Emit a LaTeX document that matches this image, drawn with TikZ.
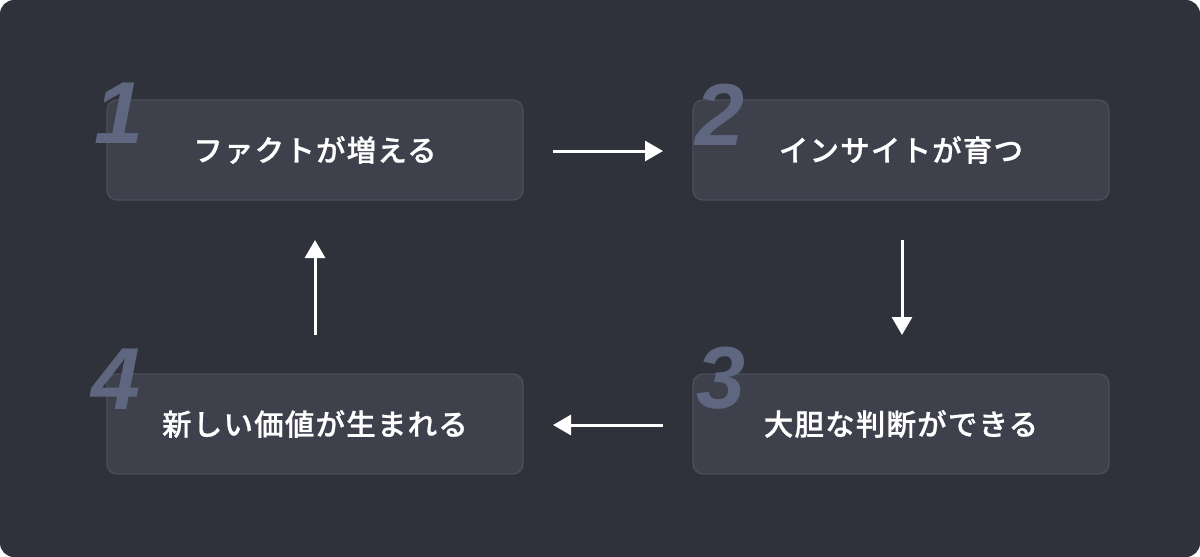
\documentclass[tikz,border=0pt]{standalone}
\usepackage{fontspec}
\newfontfamily\cjk{Noto Sans CJK JP Medium}[LetterSpace=4,FakeBold=0.8]
\newfontfamily\numfont{Liberation Sans}
\usetikzlibrary{arrows.meta}
\definecolor{bgc}{HTML}{30323B}
\definecolor{boxfill}{HTML}{3E404C}
\definecolor{boxline}{HTML}{4C4F5C}
\definecolor{numc}{HTML}{5F6680}
\tikzset{
  stepbox/.style={draw=boxline, line width=1.2pt, fill=boxfill, rounded corners=10pt, minimum width=416pt, minimum height=100pt, inner sep=0pt, text=white, font=\cjk\fontsize{29.5}{33}\selectfont},
  numlabel/.style={text=numc, font=\numfont\bfseries\itshape\fontsize{88}{92}\selectfont, inner sep=0pt},
  flow/.style={draw=white, line width=3pt, -{Triangle[width=20pt,length=18pt]}}
}
\begin{document}
\begin{tikzpicture}[x=1pt,y=-1pt]
\useasboundingbox (0,0) rectangle (1200,557);
\fill[bgc, rounded corners=14pt] (0,0) rectangle (1200,557);
\node[stepbox] (b1) at (315,150) {ファクトが増える};
\node[stepbox] (b2) at (901,150) {インサイトが育つ};
\node[stepbox] (b3) at (901,424) {大胆な判断ができる};
\node[stepbox] (b4) at (315,424) {新しい価値が生まれる};
\node[numlabel] (n1) at (119,113) {1};
\node[numlabel] (n2) at (720,115) {2};
\node[numlabel] (n3) at (721,378) {3};
\node[numlabel] (n4) at (116,379) {4};
\coordinate (a1s) at (553,151); \coordinate (a1e) at (663,151);
\coordinate (a2s) at (902,240); \coordinate (a2e) at (902,335);
\coordinate (a3s) at (663,425); \coordinate (a3e) at (553,425);
\coordinate (a4s) at (315,335); \coordinate (a4e) at (315,240);
\draw[flow] (a1s) -- (a1e);
\draw[flow] (a2s) -- (a2e);
\draw[flow] (a3s) -- (a3e);
\draw[flow] (a4s) -- (a4e);
\end{tikzpicture}
\end{document}
